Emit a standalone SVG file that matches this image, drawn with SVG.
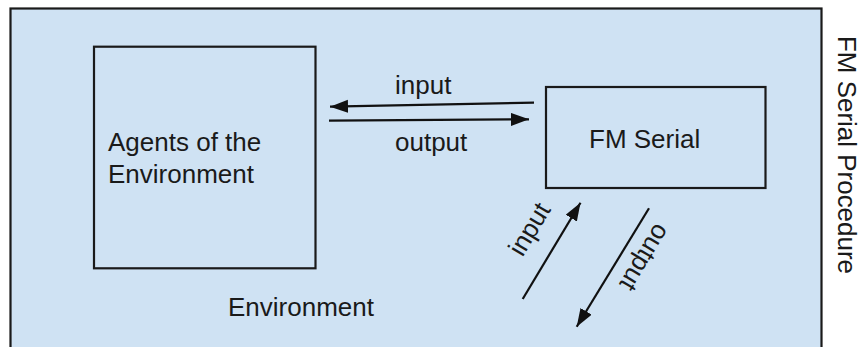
<svg xmlns="http://www.w3.org/2000/svg" width="861" height="347" viewBox="0 0 861 347">
<style>
.box{fill:#cfe2f3;stroke:#1a1a1a;stroke-width:2.2}
.inner{fill:none;stroke:#1a1a1a;stroke-width:2.2}
.t{font-family:"Liberation Sans",Arial,sans-serif;font-size:26px;fill:#1a1a1a}
.c{stroke:#111;stroke-width:2.2;fill:none;marker-end:url(#ah)}
</style>
<defs>
<marker id="ah" markerUnits="userSpaceOnUse" markerWidth="19" markerHeight="14" refX="18" refY="6.5" orient="auto">
<path d="M0,0 L18,6.5 L0,13 z" fill="#111"/>
</marker>
</defs>
<rect width="861" height="347" fill="#ffffff"/>
<g id="environment">
<rect class="box" x="10.5" y="8.5" width="811" height="350"/>
<text class="t" x="228" y="315.5">Environment</text>
</g>
<g id="fm-serial-procedure">
<text class="t" style="font-size:25px" textLength="238" lengthAdjust="spacingAndGlyphs" transform="translate(838,36) rotate(90)">FM Serial Procedure</text>
</g>
<g id="agents">
<rect class="inner" x="94" y="46.7" width="221.5" height="221.6"/>
<text class="t" x="108" y="151">Agents of the</text>
<text class="t" x="108" y="183">Environment</text>
</g>
<g id="fm-serial">
<rect class="inner" x="546" y="87" width="219.5" height="101"/>
<text class="t" x="589" y="148">FM Serial</text>
</g>
<g id="connectors">
<line class="c" x1="534" y1="102.7" x2="330" y2="106.7"/>
<line class="c" x1="329" y1="120.7" x2="529" y2="119.3"/>
<line class="c" x1="522.7" y1="299" x2="580.5" y2="202.7"/>
<line class="c" x1="649" y1="208.3" x2="576.7" y2="326.7"/>
<text class="t" x="395" y="94">input</text>
<text class="t" x="395" y="151">output</text>
<text class="t" text-anchor="middle" transform="translate(537,233.6) rotate(-59)">input</text>
<text class="t" text-anchor="middle" transform="translate(637.3,253.1) rotate(121)">output</text>
</g>
</svg>
